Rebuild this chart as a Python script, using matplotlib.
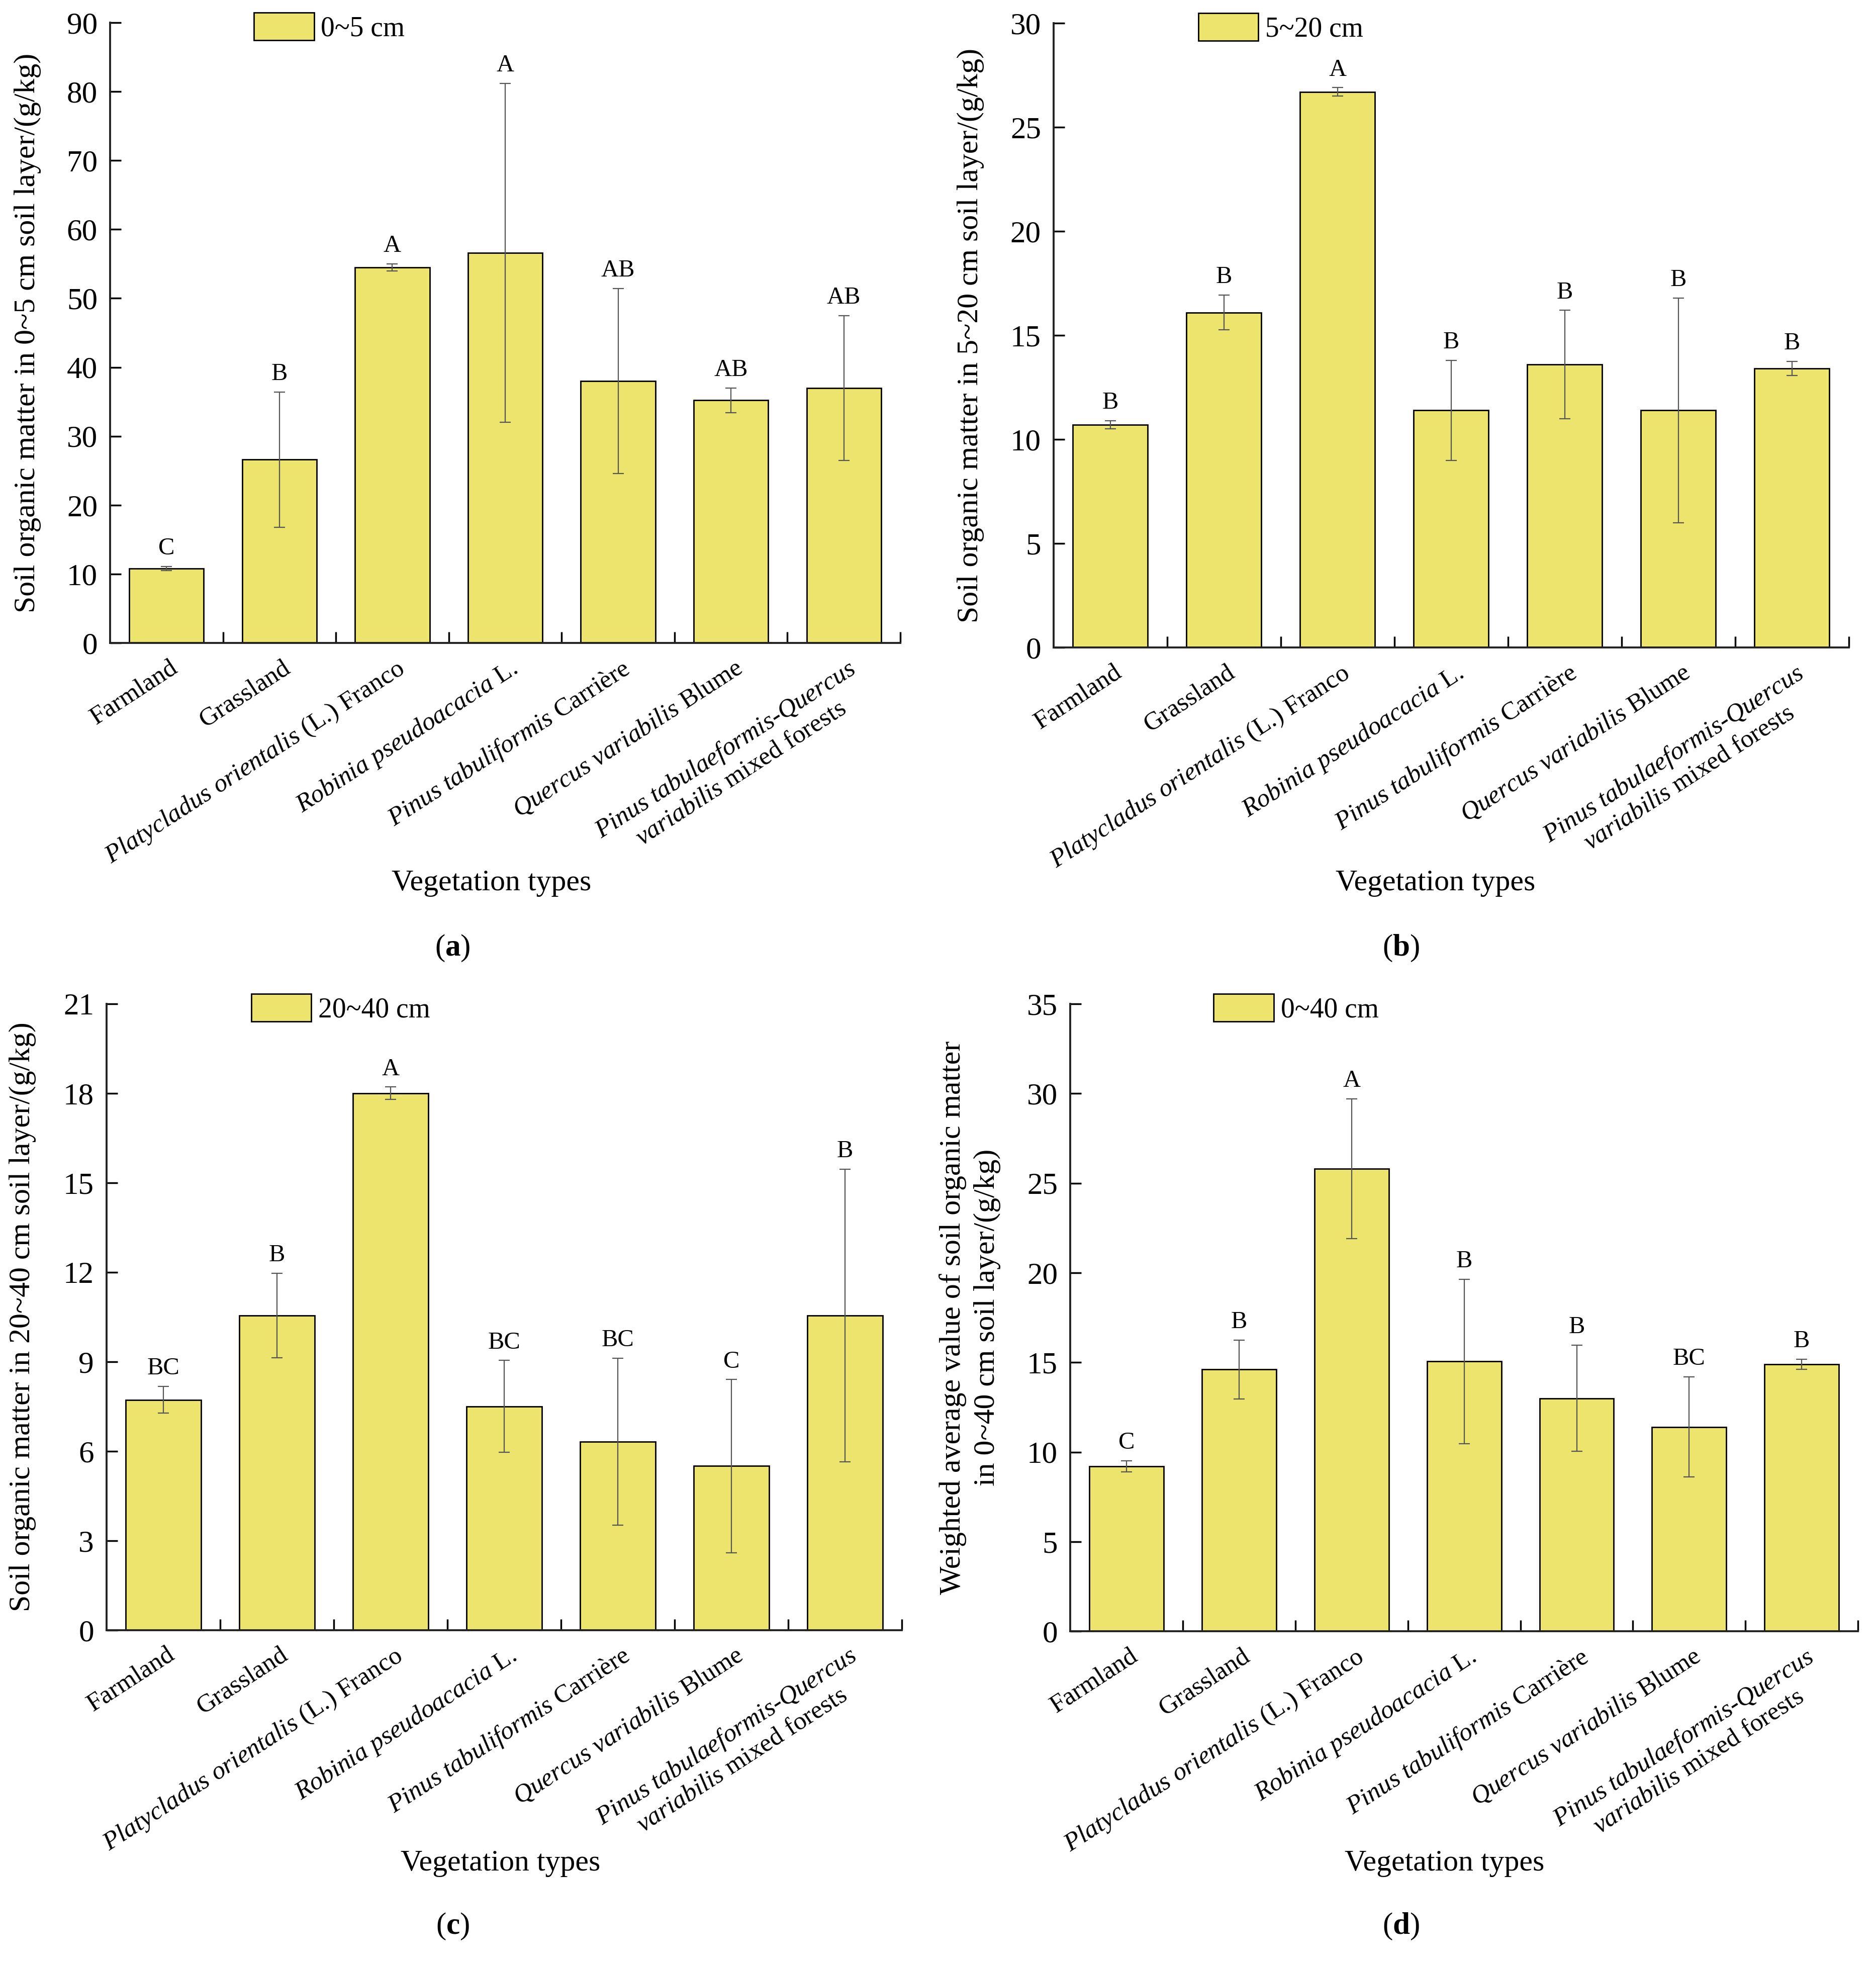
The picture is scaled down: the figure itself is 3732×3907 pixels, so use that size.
import matplotlib
matplotlib.use("Agg")
import matplotlib.pyplot as plt
import matplotlib.transforms as mtransforms
import numpy as np

plt.rcParams['font.family'] = ['Liberation Serif', 'DejaVu Serif']
plt.rcParams['mathtext.fontset'] = 'custom'
plt.rcParams['mathtext.rm'] = 'Liberation Serif'
plt.rcParams['mathtext.it'] = 'Liberation Serif:italic'
plt.rcParams['mathtext.bf'] = 'Liberation Serif:bold'

# vegetation types (x categories)
categories = [
    "Farmland",
    "Grassland",
    r"$\mathit{Platycladus\ orientalis}$ (L.) Franco",
    r"$\mathit{Robinia\ pseudoacacia}$ L.",
    r"$\mathit{Pinus\ tabuliformis}$ Carrière",
    r"$\mathit{Quercus\ variabilis}$ Blume",
    r"$\mathit{Pinus\ tabulaeformis}$-$\mathit{Quercus}$" + "\n" + r"$\mathit{variabilis}$ mixed forests",
]

# (a) 0~5 cm
som_0_5 = [10.8, 26.6, 54.5, 56.6, 38.0, 35.2, 37.0]
err_0_5 = [0.3, 9.8, 0.5, 24.6, 13.4, 1.8, 10.5]
sig_0_5 = ["C", "B", "A", "A", "AB", "AB", "AB"]

# (b) 5~20 cm
som_5_20 = [10.7, 16.1, 26.7, 11.4, 13.6, 11.4, 13.4]
err_5_20 = [0.2, 0.84, 0.2, 2.4, 2.6, 5.4, 0.34]
sig_5_20 = ["B", "B", "A", "B", "B", "B", "B"]

# (c) 20~40 cm
som_20_40 = [7.72, 10.55, 18.0, 7.5, 6.32, 5.5, 10.55]
err_20_40 = [0.45, 1.41, 0.21, 1.54, 2.8, 2.9, 4.9]
sig_20_40 = ["BC", "B", "A", "BC", "BC", "C", "B"]

# (d) weighted 0~40 cm
som_0_40 = [9.2, 14.6, 25.8, 15.05, 13.0, 11.4, 14.9]
err_0_40 = [0.3, 1.64, 3.9, 4.58, 2.95, 2.8, 0.28]
sig_0_40 = ["C", "B", "A", "B", "B", "BC", "B"]

bar_color = "#ECE46C"

fig = plt.figure(figsize=(37.32, 39.07), dpi=100)


def make_panel(rect, vals, errs, sig, ymax, ystep, leg_label, ylabel, ylab_x, xlab_pos, tag, tag_pos):
    ax = fig.add_axes(rect)
    x = np.arange(len(vals))
    ax.bar(x, vals, width=0.66, color=bar_color, edgecolor="black", linewidth=2.0,
           label=leg_label, zorder=2)
    ax.errorbar(x, vals, yerr=errs, fmt="none", ecolor="#555555", elinewidth=1.6,
                capsize=8, capthick=1.6, zorder=3)
    for xi, v, e, s in zip(x, vals, errs, sig):
        ax.annotate(s, (xi, v + e), xytext=(0, 10), textcoords="offset points",
                    ha="center", va="bottom", fontsize=35)

    ax.set_xlim(-0.5, 6.5)
    ax.set_ylim(0, ymax)
    ax.set_yticks(np.arange(0, ymax + 0.01, ystep))
    ax.spines["top"].set_visible(False)
    ax.spines["right"].set_visible(False)
    for sp in ["left", "bottom"]:
        ax.spines[sp].set_linewidth(2.8)
        ax.spines[sp].set_color("#222222")

    ax.tick_params(axis="y", direction="in", length=16, width=2.5, labelsize=44, pad=18)
    ax.set_xticks(x)
    ax.set_xticks(np.arange(0.5, 7, 1.0), minor=True)
    ax.tick_params(axis="x", which="major", length=0, pad=19)
    ax.tick_params(axis="x", which="minor", direction="in", length=16, width=2.5)
    ax.set_xticklabels(categories, fontsize=37, rotation=33, ha="right",
                       va="top", rotation_mode="anchor", multialignment="center")
    offset = mtransforms.ScaledTranslation(4 / 72, 0, fig.dpi_scale_trans)
    for lab in ax.get_xticklabels():
        lab.set_transform(lab.get_transform() + offset)

    ax.legend(loc="upper left", bbox_to_anchor=(0.182, 1.016), frameon=False,
              fontsize=40, handlelength=2.15, handleheight=1.15, handletextpad=0.25,
              borderpad=0, borderaxespad=0)

    cy = rect[1] + rect[3] / 2
    fig.text(ylab_x, cy, ylabel, rotation=90, ha="center", va="center",
             fontsize=43, linespacing=1.35, multialignment="center")
    fig.text(xlab_pos[0], xlab_pos[1], "Vegetation types", ha="center", va="center", fontsize=43)
    fig.text(tag_pos[0], tag_pos[1], "(" + r"$\mathbf{" + tag + "}$" + ")",
             ha="center", va="center", fontsize=44)
    return ax


make_panel([0.0587, 0.6726, 0.4212, 0.3159], som_0_5, err_0_5, sig_0_5, 90, 10,
           "0~5 cm", "Soil organic matter in 0~5 cm soil layer/(g/kg)",
           0.0147, (0.262, 0.5503), "a", (0.2412, 0.5173))
make_panel([0.5616, 0.6703, 0.4239, 0.3179], som_5_20, err_5_20, sig_5_20, 30, 5,
           "5~20 cm", "Soil organic matter in 5~20 cm soil layer/(g/kg)",
           0.5174, (0.7653, 0.5503), "b", (0.7467, 0.5173))
make_panel([0.0568, 0.1700, 0.4239, 0.3189], som_20_40, err_20_40, sig_20_40, 21, 3,
           "20~40 cm", "Soil organic matter in 20~40 cm soil layer/(g/kg)",
           0.012, (0.2667, 0.0512), "c", (0.2412, 0.0192))
make_panel([0.5705, 0.1694, 0.4199, 0.3195], som_0_40, err_0_40, sig_0_40, 35, 5,
           "0~40 cm", "Weighted average value of soil organic matter\nin 0~40 cm soil layer/(g/kg)",
           0.517, (0.770, 0.0512), "d", (0.7467, 0.0192))

fig.savefig("out.png", dpi=100)
